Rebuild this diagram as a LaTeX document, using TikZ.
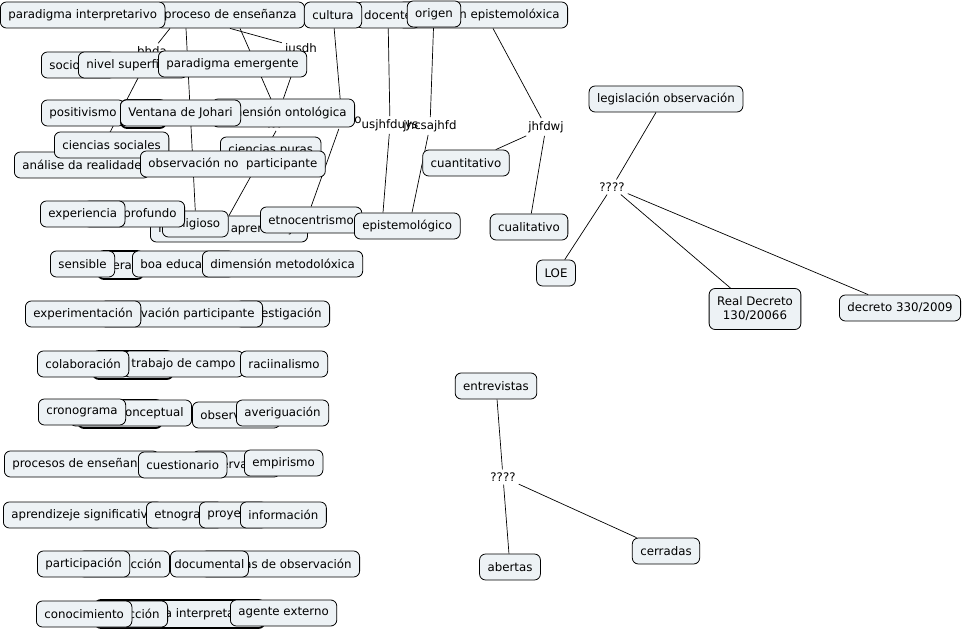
\documentclass[tikz,border=0pt]{standalone}
\usepackage{fontspec}
\setmainfont{DejaVu Sans}
\usetikzlibrary{positioning,backgrounds}
\definecolor{cmapfill}{RGB}{237,242,245}
\tikzstyle{concept} = [rectangle, draw=black, fill=cmapfill, line width=0.8pt,
 rounded corners=6pt, minimum height=26pt, inner xsep=8pt, inner ysep=2pt]
\tikzstyle{heavy} = [concept, line width=1.8pt, minimum height=28pt]
\tikzstyle{phrase} = [inner sep=3pt]
\tikzstyle{wire} = [draw=black, line width=0.7pt]

\begin{document}
\begin{tikzpicture}[x=1pt, y=-1pt, font=\fontsize{11.8}{14}\selectfont]
\useasboundingbox (0,0) rectangle (966,631);

\node[concept, anchor=east] (proceso) at (305,15) {proceso de enseñanza};
\node[concept, anchor=west] (paradigmaint) at (0,15) {paradigma interpretarivo};
\node[concept, anchor=east] (dimepist) at (568,15) {dimensión epistemolóxica};
\node[concept] (docente) at (388,15) {docente};
\node[concept] (cultura) at (333,15) {cultura};
\node[concept] (origen) at (434,14) {origen};

\node[phrase] (bhda) at (152,51) {bhda};
\node[phrase] (iusdh) at (301,48) {iusdh};
\node[concept, anchor=west] (socio) at (41,65) {socioloxía};
\node[concept, anchor=west] (nivelsup) at (78,65) {nivel superficial};
\node[concept, anchor=west] (paradigmaem) at (158,64) {paradigma emergente};

\node[concept, anchor=west] (positivismo) at (41,113) {positivismo};
\node[phrase] (dhsj) at (342,120) {dhsjdo};
\node[phrase] (lajy) at (281,122) {lajyjana};
\node[concept, anchor=east, minimum height=28pt] (dimonto) at (355,113) {dimensión ontológica};
\node[heavy, minimum width=45pt, anchor=west] (g3) at (120,114) {};
\node[concept, anchor=west] (ventana) at (120,113) {Ventana de Johari};
\node[phrase] (usjh) at (390,125) {usjhfduys};
\node[phrase] (jhcs) at (430,126) {jhcsajhfd};
\node[phrase] (jhfd) at (546,127) {jhfdwj};

\node[concept, anchor=west] (cpuras) at (220,150) {ciencias puras};
\node[concept, anchor=west] (analise) at (14,165) {análise da realidade};
\node[concept, anchor=west] (csociales) at (54,145) {ciencias sociales};
\node[concept, anchor=west] (obsnopart) at (140,164) {observación no~ participante};
\node[concept] (cuanti) at (466,163) {cuantitativo};

\node[concept, anchor=west] (modelos) at (150,229) {modelos de aprendizaje};
\node[concept, anchor=west] (religioso) at (162,224) {religioso};
\node[concept, anchor=east] (profundo) at (185,214) {nivel profundo};
\node[concept, anchor=west] (experiencia) at (40,214) {experiencia};
\node[concept, anchor=west] (etno) at (260,220) {etnocentrismo};
\node[concept, anchor=west] (episte) at (354,226) {epistemológico};
\node[concept] (cuali) at (529,227) {cualitativo};

\node[heavy, anchor=west] (xeral) at (97,265) {xeral};
\node[concept, anchor=west] (boaeduc) at (132,264) {boa educación};
\node[concept, anchor=west] (dimmet) at (202,264) {dimensión metodolóxica};
\node[concept, anchor=west] (sensible) at (50,264) {sensible};

\node[concept, anchor=east] (investig) at (330,314) {investigación};
\node[concept, anchor=east] (obspart) at (263,314) {observación participante};
\node[concept, anchor=west] (experim) at (25,314) {experimentación};

\node[heavy, minimum width=80pt, anchor=west] (g8) at (92,365) {};
\node[concept, anchor=west] (campo) at (123,364) {trabajo de campo};
\node[concept, anchor=west] (raciin) at (240,364) {raciinalismo};
\node[concept, anchor=west] (colab) at (37,364) {colaboración};

\node[heavy, minimum width=84pt, anchor=west] (g9) at (77,414) {};
\node[concept, anchor=east] (marco) at (192,413) {marco conceptual};
\node[concept, anchor=west] (observ) at (192,415) {observación};
\node[concept, anchor=west] (averig) at (236,413) {averiguación};
\node[concept, anchor=west] (crono) at (38,412) {cronograma};

\node[concept, anchor=west] (procesos) at (4,464) {procesos de enseñanza};
\node[concept, anchor=west] (observacion) at (192,464) {observación};
\node[concept, anchor=west] (cuestion) at (138,465) {cuestionario};
\node[concept, anchor=west] (empir) at (244,463) {empirismo};

\node[concept, anchor=west] (aprsig) at (3,515) {aprendizeje significativo};
\node[concept, anchor=west] (etnograf) at (146,515) {etnografía};
\node[concept, anchor=west] (proyecto) at (199,515) {proyecto};
\node[concept, anchor=west] (informacion) at (240,515) {información};

\node[concept, anchor=east] (tecnicas) at (360,564) {técnicas de observación};
\node[concept, anchor=east] (construc) at (170,564) {construcción};
\node[concept, anchor=west, inner xsep=4pt] (documental) at (170,564) {documental};
\node[concept, anchor=west] (particip) at (37,564) {participación};

\node[heavy, anchor=west] (perspect) at (94,614) {perspectiva interpretativa};
\node[concept, anchor=east] (reduc) at (168,614) {reducción};
\node[concept, anchor=west] (agente) at (230,613) {agente externo};
\node[concept, anchor=west] (conocim) at (36,614) {conocimiento};

\node[concept] (legis) at (666,99) {legislación observación};
\node[phrase] (qa) at (612,187) {????};
\node[concept] (loe) at (556,273) {LOE};
\node[concept, align=center, minimum height=41pt] (rd) at (755,309) {Real Decreto\\130/20066};
\node[concept] (decreto) at (900,308) {decreto 330/2009};

\node[concept] (entrev) at (496,386) {entrevistas};
\node[phrase] (qb) at (503,477) {????};
\node[concept] (abertas) at (510,567) {abertas};
\node[concept] (cerradas) at (666,551) {cerradas};

\begin{scope}[on background layer]
\draw[wire] ([xshift=-135pt]proceso.south east) -- (bhda);
\draw[wire] (bhda) -- ([xshift=86pt]analise.north west);
\draw[wire] ([xshift=-119pt]proceso.south east) -- (religioso.north);
\draw[wire] ([xshift=-65pt]proceso.south east) -- (lajy);
\draw[wire] (lajy) -- (modelos.north);
\draw[wire] ([xshift=-75pt]proceso.south east) -- (iusdh);
\draw[wire] (iusdh) -- (dimonto.north);
\draw[wire] (cultura) -- (dhsj) -- (etno.north);
\draw[wire] (docente) -- (usjh) -- ([xshift=29pt]episte.north west);
\draw[wire] (origen) -- (jhcs) -- ([xshift=58pt]episte.north west);
\draw[wire] ([xshift=-75pt]dimepist.south east) -- (jhfd);
\draw[wire] (jhfd) -- (cuanti);
\draw[wire] (jhfd) -- (cuali);
\draw[wire] ([xshift=-10pt]legis.south) -- (qa);
\draw[wire] (qa) -- (loe);
\draw[wire] (qa) -- (rd);
\draw[wire] (qa) -- (decreto);
\draw[wire] (entrev) -- (qb);
\draw[wire] (qb) -- (abertas);
\draw[wire] (qb) -- (cerradas);
\end{scope}

\end{tikzpicture}
\end{document}
